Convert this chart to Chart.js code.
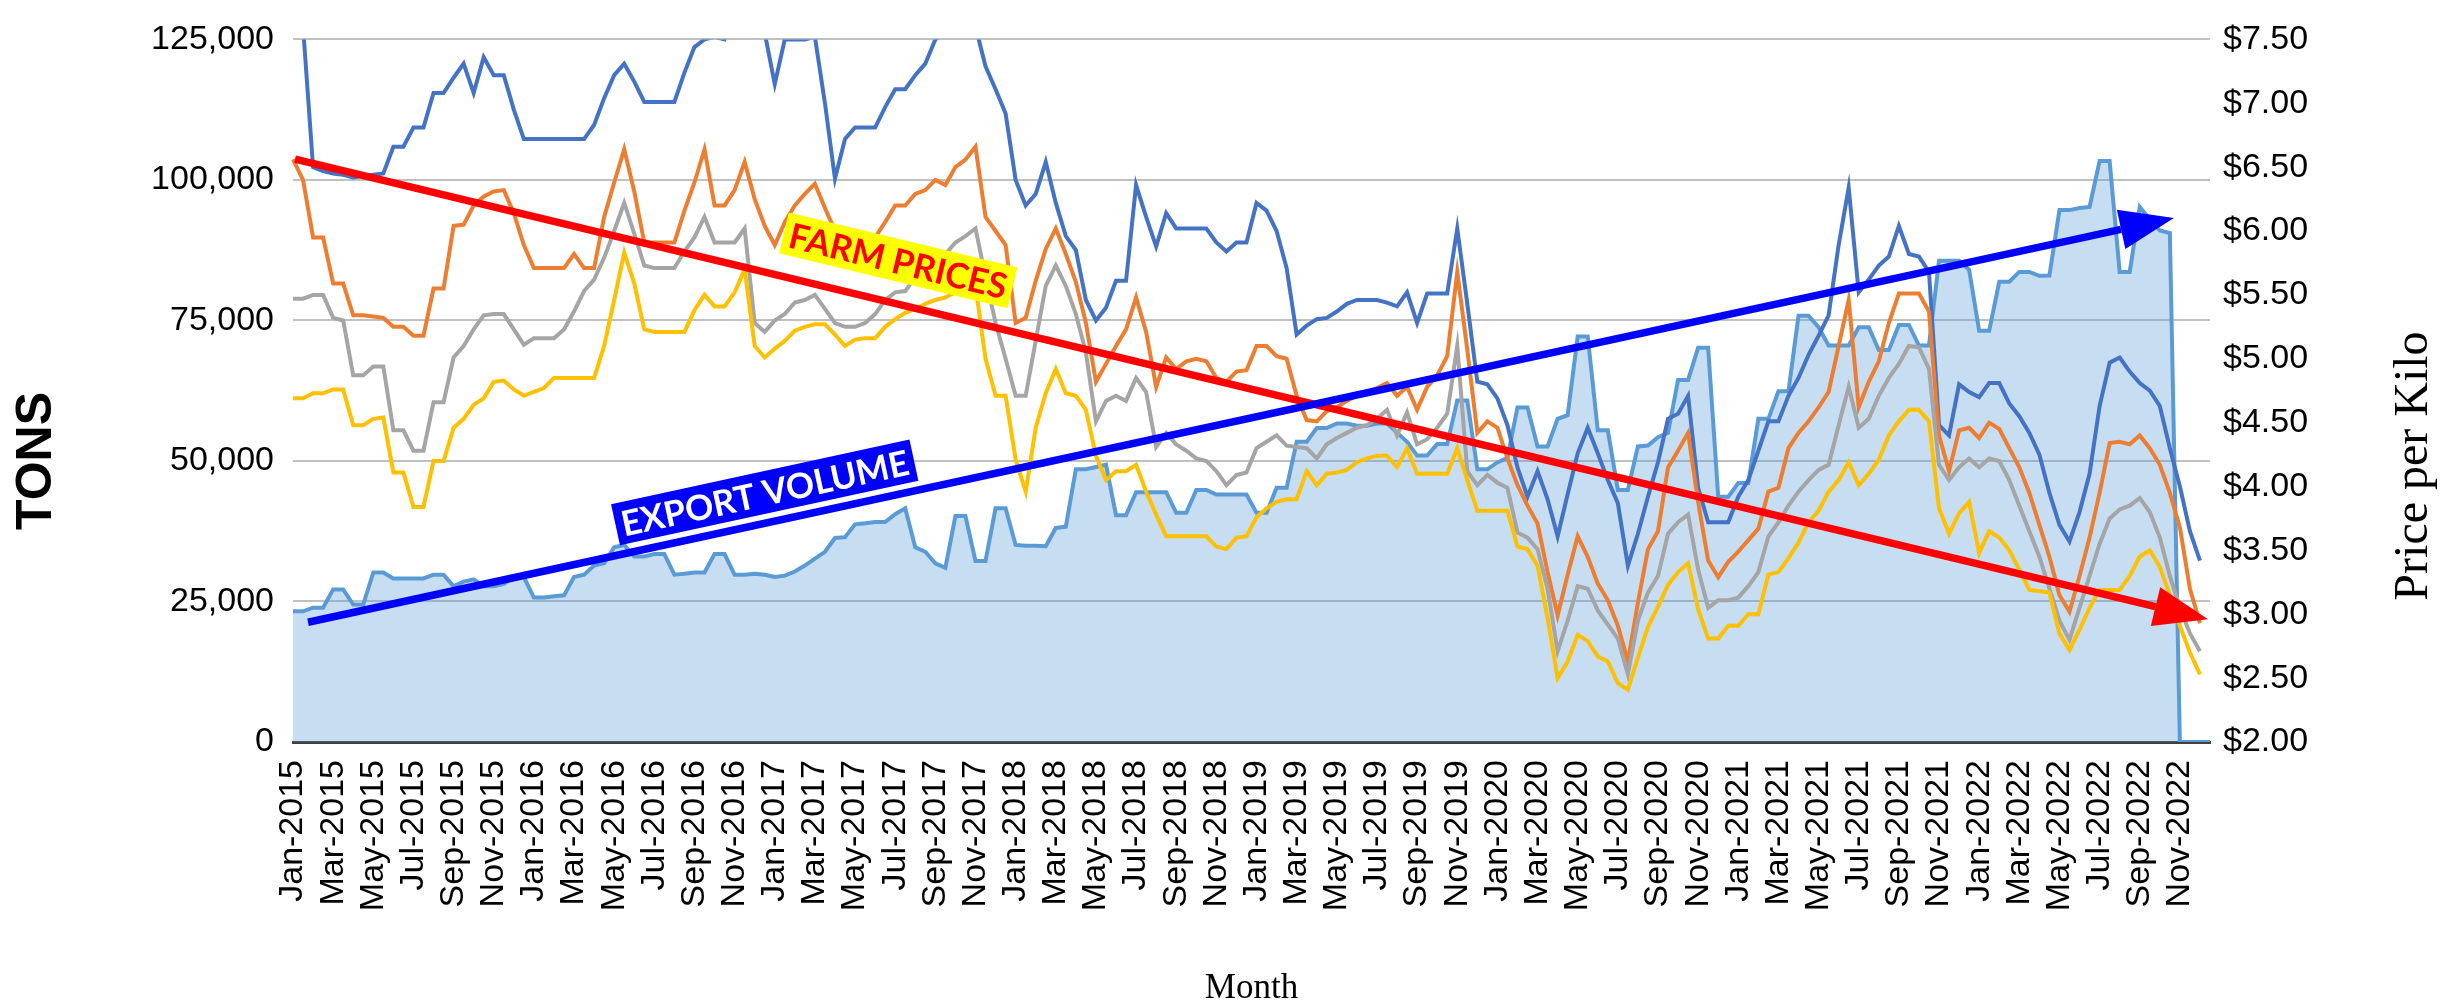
<!DOCTYPE html>
<html>
<head>
<meta charset="utf-8">
<script src="https://cdn.jsdelivr.net/npm/chart.js@4"></script>
<style>
  html, body { margin: 0; padding: 0; background: #fff; }
  .wrap { position: relative; width: 2458px; height: 1006px; }
</style>
</head>
<body>
<div class="wrap"><canvas id="myChart"></canvas></div>
<script>
const ctx = document.getElementById('myChart').getContext('2d')

// tick labels shown under the axis, one every two months
const tickLabels = [
  'Jan-2015', 'Mar-2015', 'May-2015', 'Jul-2015', 'Sep-2015', 'Nov-2015',
  'Jan-2016', 'Mar-2016', 'May-2016', 'Jul-2016', 'Sep-2016', 'Nov-2016',
  'Jan-2017', 'Mar-2017', 'May-2017', 'Jul-2017', 'Sep-2017', 'Nov-2017',
  'Jan-2018', 'Mar-2018', 'May-2018', 'Jul-2018', 'Sep-2018', 'Nov-2018',
  'Jan-2019', 'Mar-2019', 'May-2019', 'Jul-2019', 'Sep-2019', 'Nov-2019',
  'Jan-2020', 'Mar-2020', 'May-2020', 'Jul-2020', 'Sep-2020', 'Nov-2020',
  'Jan-2021', 'Mar-2021', 'May-2021', 'Jul-2021', 'Sep-2021', 'Nov-2021',
  'Jan-2022', 'Mar-2022', 'May-2022', 'Jul-2022', 'Sep-2022', 'Nov-2022'
]
const monthNames = ['Jan', 'Feb', 'Mar', 'Apr', 'May', 'Jun', 'Jul', 'Aug', 'Sep', 'Oct', 'Nov', 'Dec']
const years = [2015, 2016, 2017, 2018, 2019, 2020, 2021, 2022]

// two readings per month
const periods = []
for (const yr of years) {
  for (const m of monthNames) {
    periods.push(m + '-' + yr + ' a')
    periods.push(m + '-' + yr + ' b')
  }
}

// export volume, tons (left axis)
const exportVolume = [
  23240, 23240, 23890, 23890, 27150, 27150, 24460, 24460, 30170, 30170,
  29110, 29110, 29110, 29110, 29760, 29760, 27720, 28540, 28950, 27720,
  27720, 28130, 29350, 29350, 25690, 25690, 25930, 26090, 29350, 29760,
  31390, 31800, 34650, 35060, 33020, 33020, 33430, 33430, 29760, 29930,
  30170, 30170, 33430, 33430, 29760, 29760, 29930, 29760, 29350, 29600,
  30330, 31390, 32620, 33840, 36290, 36450, 38730, 38900, 39140, 39140,
  40530, 41590, 34650, 33840, 31800, 30990, 40200, 40200, 32210, 32210,
  41590, 41590, 35060, 34900, 34900, 34820, 38080, 38320, 48520, 48520,
  48920, 49330, 40360, 40360, 44440, 44440, 44440, 44440, 40770, 40770,
  44850, 44850, 44030, 44030, 44030, 44030, 40770, 40770, 45250, 45250,
  53410, 53410, 55850, 55850, 56670, 56670, 56260, 56260, 56670, 56670,
  55040, 53410, 50960, 50960, 53000, 53000, 60750, 60750, 48520, 48520,
  49740, 50560, 59520, 59520, 52590, 52590, 57490, 58140, 72160, 72160,
  55450, 55450, 44850, 44850, 52590, 52760, 54220, 55000, 64420, 64420,
  70120, 70120, 43620, 43620, 46070, 46070, 57490, 57490, 62380, 62380,
  75830, 75830, 73790, 70530, 70530, 70530, 73790, 73790, 69720, 69720,
  74200, 74200, 70530, 70530, 85620, 85620, 85620, 84000, 73160, 73160,
  81880, 81880, 83630, 83630, 82950, 83000, 94630, 94630, 95000, 95200,
  103360, 103360, 83630, 83630, 95200, 93000, 91000, 90560, 0, 0,
  0, 0
]

// farm prices, $ per kilo (right axis)
const priceTop = [
  8.2, 7.6, 6.50, 6.47, 6.45, 6.44, 6.42, 6.43, 6.44, 6.45,
  6.66, 6.66, 6.81, 6.81, 7.08, 7.08, 7.20, 7.31, 7.08, 7.36,
  7.22, 7.22, 6.95, 6.72, 6.72, 6.72, 6.72, 6.72, 6.72, 6.72,
  6.83, 7.04, 7.22, 7.31, 7.17, 7.01, 7.01, 7.01, 7.01, 7.24,
  7.44, 7.5, 7.52, 7.5, 7.7, 7.8, 7.7, 7.55, 7.15, 7.5,
  7.5, 7.5, 7.52, 7.0, 6.41, 6.72, 6.81, 6.81, 6.81, 6.97,
  7.11, 7.11, 7.22, 7.31, 7.5, 7.55, 7.6, 7.65, 7.6, 7.29,
  7.11, 6.92, 6.40, 6.20, 6.29, 6.54, 6.22, 5.96, 5.85, 5.46,
  5.30, 5.40, 5.61, 5.61, 6.36, 6.11, 5.88, 6.14, 6.02, 6.02,
  6.02, 6.02, 5.91, 5.84, 5.91, 5.91, 6.22, 6.16, 6.00, 5.71,
  5.19, 5.26, 5.31, 5.32, 5.37, 5.43, 5.46, 5.46, 5.46, 5.44,
  5.41, 5.52, 5.28, 5.51, 5.51, 5.51, 6.02, 5.43, 4.82, 4.80,
  4.69, 4.48, 4.15, 3.92, 4.12, 3.90, 3.61, 3.94, 4.26, 4.46,
  4.26, 4.05, 3.87, 3.38, 3.63, 3.92, 4.19, 4.53, 4.57, 4.71,
  3.99, 3.72, 3.72, 3.72, 3.92, 4.05, 4.28, 4.51, 4.51, 4.71,
  4.85, 5.03, 5.18, 5.34, 5.89, 6.34, 5.52, 5.62, 5.73, 5.80,
  6.04, 5.82, 5.80, 5.68, 4.48, 4.40, 4.80, 4.74, 4.70, 4.81,
  4.81, 4.65, 4.55, 4.42, 4.25, 3.95, 3.70, 3.57, 3.80, 4.10,
  4.63, 4.97, 5.01, 4.90, 4.81, 4.75, 4.63, 4.30, 4.00, 3.65,
  3.42, null
]
const priceHigh = [
  6.56, 6.40, 5.95, 5.95, 5.59, 5.59, 5.34, 5.34, 5.33, 5.32,
  5.25, 5.25, 5.18, 5.18, 5.55, 5.55, 6.04, 6.05, 6.20, 6.27,
  6.31, 6.32, 6.14, 5.89, 5.71, 5.71, 5.71, 5.71, 5.82, 5.71,
  5.71, 6.11, 6.38, 6.64, 6.31, 5.91, 5.91, 5.91, 5.91, 6.16,
  6.38, 6.64, 6.20, 6.20, 6.32, 6.54, 6.25, 6.04, 5.89, 6.07,
  6.20, 6.29, 6.37, 6.18, 6.00, 5.82, 5.79, 5.86, 5.95, 6.07,
  6.20, 6.20, 6.29, 6.32, 6.40, 6.36, 6.50, 6.56, 6.66, 6.11,
  6.00, 5.89, 5.28, 5.32, 5.61, 5.86, 6.02, 5.82, 5.60, 5.28,
  4.82, 4.96, 5.10, 5.23, 5.48, 5.21, 4.78, 5.01, 4.92, 4.98,
  5.00, 4.98, 4.85, 4.82, 4.90, 4.91, 5.10, 5.10, 5.02, 5.00,
  4.71, 4.52, 4.51, 4.59, 4.62, 4.67, 4.71, 4.74, 4.77, 4.81,
  4.71, 4.78, 4.60, 4.78, 4.87, 5.02, 5.68, 5.07, 4.42, 4.51,
  4.46, 4.22, 4.01, 3.85, 3.71, 3.33, 2.99, 3.31, 3.61, 3.45,
  3.24, 3.11, 2.91, 2.63, 3.09, 3.51, 3.65, 4.15, 4.28, 4.42,
  3.88, 3.42, 3.29, 3.41, 3.49, 3.58, 3.67, 3.96, 3.99, 4.30,
  4.42, 4.51, 4.62, 4.74, 5.10, 5.46, 4.62, 4.82, 4.98, 5.28,
  5.51, 5.51, 5.51, 5.37, 4.40, 4.12, 4.44, 4.46, 4.38, 4.50,
  4.45, 4.30, 4.15, 3.95, 3.70, 3.45, 3.15, 3.02, 3.30, 3.60,
  3.95, 4.34, 4.35, 4.33, 4.40, 4.30, 4.17, 3.95, 3.68, 3.20,
  2.93, null
]
const priceMid = [
  5.47, 5.47, 5.50, 5.50, 5.32, 5.30, 4.87, 4.87, 4.94, 4.94,
  4.44, 4.44, 4.28, 4.28, 4.66, 4.66, 5.01, 5.10, 5.23, 5.34,
  5.35, 5.35, 5.23, 5.11, 5.16, 5.16, 5.16, 5.23, 5.37, 5.53,
  5.62, 5.79, 6.00, 6.22, 5.98, 5.73, 5.71, 5.71, 5.71, 5.84,
  5.95, 6.11, 5.91, 5.91, 5.91, 6.02, 5.28, 5.21, 5.30, 5.35,
  5.44, 5.46, 5.50, 5.39, 5.28, 5.25, 5.25, 5.28, 5.35, 5.46,
  5.52, 5.53, 5.64, 5.71, 5.80, 5.82, 5.91, 5.96, 6.02, 5.64,
  5.28, 5.00, 4.71, 4.71, 5.14, 5.57, 5.73, 5.57, 5.35, 5.05,
  4.51, 4.67, 4.71, 4.67, 4.85, 4.74, 4.31, 4.42, 4.33, 4.28,
  4.22, 4.20, 4.12, 4.01, 4.09, 4.11, 4.30, 4.35, 4.40, 4.32,
  4.31, 4.30, 4.22, 4.33, 4.38, 4.42, 4.46, 4.48, 4.53, 4.60,
  4.40, 4.58, 4.33, 4.37, 4.46, 4.57, 5.10, 4.12, 4.01, 4.09,
  4.03, 3.99, 3.64, 3.60, 3.51, 3.20, 2.71, 2.95, 3.22, 3.20,
  3.03, 2.92, 2.81, 2.53, 2.95, 3.17, 3.30, 3.63, 3.72, 3.78,
  3.35, 3.05, 3.11, 3.11, 3.13, 3.22, 3.33, 3.61, 3.72, 3.85,
  3.96, 4.05, 4.13, 4.17, 4.48, 4.78, 4.46, 4.53, 4.71, 4.85,
  4.96, 5.10, 5.09, 4.92, 4.17, 4.05, 4.15, 4.22, 4.15, 4.22,
  4.20, 4.05, 3.85, 3.65, 3.45, 3.20, 2.95, 2.80, 3.05, 3.30,
  3.55, 3.75, 3.82, 3.85, 3.91, 3.80, 3.60, 3.30, 3.05, 2.85,
  2.71, null
]
const priceLow = [
  4.69, 4.69, 4.73, 4.73, 4.76, 4.76, 4.48, 4.48, 4.53, 4.54,
  4.11, 4.11, 3.84, 3.84, 4.20, 4.20, 4.46, 4.53, 4.64, 4.69,
  4.82, 4.83, 4.76, 4.71, 4.74, 4.77, 4.85, 4.85, 4.85, 4.85,
  4.85, 5.10, 5.46, 5.83, 5.59, 5.23, 5.21, 5.21, 5.21, 5.21,
  5.38, 5.50, 5.41, 5.41, 5.52, 5.70, 5.10, 5.01, 5.08, 5.14,
  5.22, 5.25, 5.27, 5.27, 5.19, 5.10, 5.15, 5.16, 5.16, 5.25,
  5.31, 5.36, 5.39, 5.43, 5.46, 5.48, 5.52, 5.53, 5.57, 5.00,
  4.71, 4.71, 4.21, 3.96, 4.46, 4.73, 4.92, 4.73, 4.71, 4.60,
  4.24, 4.05, 4.12, 4.12, 4.17, 3.96, 3.78, 3.61, 3.61, 3.61,
  3.61, 3.61, 3.53, 3.51, 3.60, 3.61, 3.76, 3.83, 3.88, 3.90,
  3.90, 4.12, 4.01, 4.10, 4.11, 4.13, 4.19, 4.22, 4.24, 4.24,
  4.15, 4.30, 4.10, 4.10, 4.10, 4.10, 4.30, 4.05, 3.81, 3.81,
  3.81, 3.81, 3.53, 3.51, 3.38, 2.97, 2.50, 2.63, 2.84, 2.79,
  2.67, 2.63, 2.46, 2.41, 2.66, 2.90, 3.06, 3.23, 3.33, 3.40,
  3.04, 2.81, 2.81, 2.91, 2.91, 3.00, 3.00, 3.31, 3.33, 3.44,
  3.56, 3.72, 3.81, 3.96, 4.05, 4.19, 4.01, 4.10, 4.21, 4.40,
  4.51, 4.60, 4.60, 4.51, 3.83, 3.63, 3.79, 3.88, 3.48, 3.65,
  3.60, 3.50, 3.35, 3.19, 3.18, 3.17, 2.85, 2.72, 2.88, 3.05,
  3.19, 3.19, 3.19, 3.30, 3.45, 3.50, 3.37, 3.15, 2.91, 2.70,
  2.53, null
]

// trend arrows and their tags, in axis units (period index, tons)
const arrows = [
  { from: [0.2, 103700], to: [190.8, 21830], color: '#ff0000' },
  { from: [1.5, 21300], to: [187.4, 93240], color: '#0000ff' }
]
const tags = [
  { text: 'FARM PRICES', at: [60.3, 85700], arrow: 0, bg: '#ffff00', color: '#ff0000' },
  { text: 'EXPORT VOLUME', at: [47.0, 44400], arrow: 1, bg: '#0000ff', color: '#ffffff' }
]

const tickFont = { family: 'Liberation Sans', size: 34 }

const drawArrow = (c, a, b, color) => {
  const ang = Math.atan2(b[1] - a[1], b[0] - a[0])
  const head = 54
  const half = 20
  const bx = b[0] - head * Math.cos(ang)
  const by = b[1] - head * Math.sin(ang)
  c.save()
  c.strokeStyle = color
  c.fillStyle = color
  c.lineWidth = 7.5
  c.beginPath()
  c.moveTo(a[0], a[1])
  c.lineTo(bx, by)
  c.stroke()
  c.beginPath()
  c.moveTo(b[0], b[1])
  c.lineTo(bx + half * Math.sin(ang), by - half * Math.cos(ang))
  c.lineTo(bx - half * Math.sin(ang), by + half * Math.cos(ang))
  c.closePath()
  c.fill()
  c.restore()
}

const annotate = {
  id: 'annotate',
  afterDatasetsDraw(chart) {
    const c = chart.ctx
    const { x, y } = chart.scales
    const px = p => [x.getPixelForValue(p[0]), y.getPixelForValue(p[1])]
    const pts = arrows.map(a => [px(a.from), px(a.to)])
    arrows.forEach((a, i) => drawArrow(c, pts[i][0], pts[i][1], a.color))
    tags.forEach(t => {
      const [a, b] = pts[t.arrow]
      const ang = Math.atan2(b[1] - a[1], b[0] - a[0])
      const at = px(t.at)
      c.save()
      c.translate(at[0], at[1])
      c.rotate(ang)
      c.font = 'bold 35px Lato'
      const w = c.measureText(t.text).width + 12
      const h = 42
      c.fillStyle = t.bg
      c.fillRect(-w / 2, -h / 2, w, h)
      c.fillStyle = t.color
      c.textAlign = 'center'
      c.textBaseline = 'middle'
      c.fillText(t.text, 0, 2)
      c.restore()
    })
  },
  afterDraw(chart) {
    const c = chart.ctx
    const area = chart.chartArea
    c.save()
    c.fillStyle = '#000'
    c.textAlign = 'center'
    c.textBaseline = 'middle'
    c.save()
    c.translate(37, 461)
    c.rotate(-Math.PI / 2)
    c.font = 'bold 50px Liberation Sans'
    c.fillText('TONS', 0, 0)
    c.restore()
    c.save()
    c.translate(2414, 466)
    c.rotate(-Math.PI / 2)
    c.font = '48px Liberation Serif'
    c.fillText('Price per Kilo', 0, 0)
    c.restore()
    c.font = '35px Liberation Serif'
    c.fillText('Month', (area.left + area.right) / 2, 989)
    c.restore()
  }
}

const priceLine = (label, data, color, order) => ({
  label: label,
  data: data,
  yAxisID: 'y1',
  borderColor: color,
  borderWidth: 4,
  pointRadius: 0,
  tension: 0,
  fill: false,
  order: order
})

new Chart(ctx, {
  type: 'line',
  data: {
    labels: periods,
    datasets: [
      {
        label: 'Export volume',
        data: exportVolume,
        yAxisID: 'y',
        borderColor: '#5B9BD5',
        backgroundColor: 'rgba(91, 155, 213, 0.34)',
        borderWidth: 4,
        pointRadius: 0,
        tension: 0,
        fill: 'origin',
        order: 10
      },
      priceLine('Price 1', priceTop, '#4472C4', 4),
      priceLine('Price 2', priceHigh, '#ED7D31', 3),
      priceLine('Price 3', priceMid, '#A5A5A5', 2),
      priceLine('Price 4', priceLow, '#FFC000', 1)
    ]
  },
  options: {
    responsive: true,
    maintainAspectRatio: false,
    animation: false,
    devicePixelRatio: 1,
    layout: { padding: { top: 26, left: 0, right: 0, bottom: 0 } },
    plugins: {
      legend: { display: false },
      tooltip: { enabled: false }
    },
    scales: {
      x: {
        grid: { display: false, drawTicks: false },
        border: { display: true, color: '#3f3f3f', width: 3 },
        ticks: {
          autoSkip: false,
          maxRotation: 90,
          minRotation: 90,
          padding: 18,
          color: '#000',
          font: tickFont,
          callback: (v, i) => i % 4 === 0 ? tickLabels[i / 4] : ''
        },
        afterFit: s => { s.height = 264 }
      },
      y: {
        position: 'left',
        min: 0,
        max: 125000,
        ticks: {
          stepSize: 25000,
          padding: 19,
          color: '#000',
          font: tickFont,
          callback: v => v.toLocaleString('en-US')
        },
        grid: { color: '#c0c0c0', lineWidth: 2, drawTicks: false },
        border: { display: false },
        afterFit: s => { s.width = 293 }
      },
      y1: {
        position: 'right',
        min: 2,
        max: 7.5,
        ticks: {
          stepSize: 0.5,
          padding: 13,
          color: '#000',
          font: tickFont,
          callback: v => '$' + v.toFixed(2)
        },
        grid: { display: false, drawTicks: false },
        border: { display: false },
        afterFit: s => { s.width = 248 }
      }
    }
  },
  plugins: [annotate]
})
</script>
</body>
</html>
